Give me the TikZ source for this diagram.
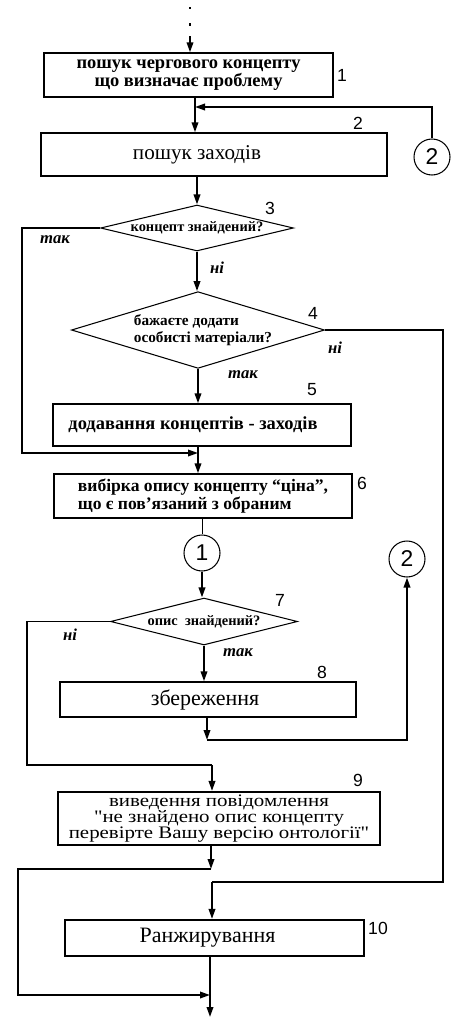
\documentclass[tikz,border=0pt]{standalone}
\usepackage{fontspec}
\setmainfont{Liberation Serif}
\newfontfamily\numfont{Liberation Sans}
\newfontfamily\widefont[FakeStretch=1.19]{Liberation Serif}
\usetikzlibrary{arrows.meta,shapes.geometric}

\begin{document}
\begin{tikzpicture}[
    x=0.02cm,y=-0.02cm,
    box/.style={rectangle,draw,line width=0.8pt,inner sep=0pt,align=center},
    decision/.style={diamond,draw,line width=0.6pt,inner sep=0pt,font=\bfseries\fontsize{8.2}{9}\selectfont},
    conn/.style={circle,draw,line width=0.6pt,minimum size=0.72cm,inner sep=0pt,font=\numfont\fontsize{13}{13}\selectfont},
    num/.style={font=\numfont\fontsize{10}{10}\selectfont,inner sep=0pt},
    ans/.style={font=\bfseries\itshape\fontsize{9.5}{10}\selectfont,inner sep=0pt},
    line/.style={line width=1.1pt},
    arrow/.style={line width=1.1pt,-{Triangle[length=2mm,width=1.3mm]}}
]
\useasboundingbox (0,0) rectangle (450,1018);

% blocks
\node[box,minimum width=5.78cm,minimum height=0.88cm,font=\bfseries\fontsize{10.5}{10.5}\selectfont] (b-search) at (188.5,75) {пошук чергового концепту\\що визначає проблему};
\node[box,minimum width=6.92cm,minimum height=0.86cm,font=\fontsize{12}{12}\selectfont] (b-measures) at (214,154.5) {пошук заходів\hspace*{0.68cm}};
\node[decision,minimum width=3.86cm,minimum height=0.92cm,shape aspect=4.2] (d-found) at (197,228) {концепт знайдений?};
\node[decision,minimum width=4.96cm,minimum height=1.52cm,shape aspect=3.3,align=left,font=\bfseries\fontsize{8.7}{10}\selectfont] (d-wish) at (198,330) {\hspace*{0.2cm}бажаєте додати\\\hspace*{0.2cm}особисті матеріали?};
\node[box,minimum width=5.96cm,minimum height=0.84cm,font=\bfseries\fontsize{10.5}{11}\selectfont] (b-add) at (202,425) {додавання концептів - заходів\hspace*{0.36cm}};
\node[box,minimum width=5.96cm,minimum height=0.88cm,align=left,font=\bfseries\fontsize{10}{10.5}\selectfont] (b-select) at (203,496) {вибірка опису концепту “ціна”,\\ що є пов’язаний з обраним};
\node[conn] (c-one) at (202,553) {1};
\node[conn] (c-two-a) at (432,157) {2};
\node[conn] (c-two-b) at (407,559) {2};
\node[decision,minimum width=3.74cm,minimum height=0.94cm,shape aspect=4] (d-descr) at (204,621.5) {опис\ \ знайдений?};
\node[box,minimum width=5.92cm,minimum height=0.70cm,font=\fontsize{12.5}{12}\selectfont] (b-save) at (208,699.5) {збереження\hspace*{0.12cm}};
\node[box,line width=1.2pt,minimum width=6.44cm,minimum height=1.06cm,font=\widefont\fontsize{10}{9}\selectfont] (b-msg) at (219,818.5) {виведення повідомлення\\"не знайдено опис концепту\\перевірте Вашу версію онтології"};
\node[box,line width=1.2pt,minimum width=5.98cm,minimum height=0.72cm,font=\fontsize{12.5}{12}\selectfont] (b-rank) at (214.5,938) {Ранжирування\hspace*{0.28cm}};

% numbers
\node[num] (n1) at (342,75) {1};
\node[num] (n2) at (358,123) {2};
\node[num] (n3) at (270,208) {3};
\node[num] (n4) at (313,313) {4};
\node[num] (n5) at (312,390) {5};
\node[num] (n6) at (362,483) {6};
\node[num] (n7) at (280,600) {7};
\node[num] (n8) at (322,672) {8};
\node[num] (n9) at (358,780) {9};
\node[num] (n10) at (378,928) {10};

% answers
\node[ans] (a-yes3) at (55,240) {так};
\node[ans] (a-no3) at (217,268) {ні};
\node[ans] (a-no4) at (335,348) {ні};
\node[ans] (a-yes4) at (243,375) {так};
\node[ans] (a-no7) at (70,635) {ні};
\node[ans] (a-yes7) at (238,653) {так};

% points on the lines
\coordinate (top) at (190,7);
\coordinate (top-end) at (190,36);
\coordinate (j1) at (195,107);
\coordinate (k1) at (22,453);
\coordinate (j2) at (198,453);
\coordinate (j4) at (207,740);
\coordinate (k3) at (27,765);
\coordinate (j5) at (212,765);
\coordinate (j7) at (211,869);
\coordinate (k2) at (443,882);
\coordinate (j6) at (212,882);
\coordinate (k4) at (18,995);
\coordinate (j8) at (210,995);
\coordinate (bottom) at (210,1017);

% main flow
\draw[line width=1.3pt,dash pattern=on 1.3pt off 8pt] (top) -- (top-end);
\draw[arrow] (top-end) -- (top-end |- b-search.north);
\draw[arrow] (j1 |- b-search.south) -- (j1 |- b-measures.north);
\draw[arrow] (c-two-a.north) |- (j1);
\draw[arrow] (d-found.north |- b-measures.south) -- (d-found.north);
\draw[arrow] (d-found.south) -- (d-found.south |- d-wish.north);
\draw[arrow] (d-wish.south) -- (d-wish.south |- b-add.north);
\draw[arrow] (d-found.west) -| (k1) -- (j2);
\draw[arrow] (j2 |- b-add.south) -- (j2 |- b-select.north);
\draw[line width=0.5pt] (c-one.north |- b-select.south) -- (c-one.north);
\draw[arrow] (c-one.south) -- (c-one.south |- d-descr.north);
\draw[arrow] (d-descr.south) -- (d-descr.south |- b-save.north);
\draw[arrow] (j4 |- b-save.south) -- (j4);
\draw[arrow] (j4) -| (c-two-b.south);
\draw[line] (d-descr.west) -| (k3) -- (j5);
\draw[arrow] (j5) -- (j5 |- b-msg.north);
\draw[arrow] (j7 |- b-msg.south) -- (j7);
\draw[arrow] (j7) -- (k4 |- j7) -- (k4) -- (j8);
\draw[line] (d-wish.east) -| (k2) -- (j6);
\draw[arrow] (j6) -- (j6 |- b-rank.north);
\draw[arrow] (bottom |- b-rank.south) -- (bottom);

\end{tikzpicture}
\end{document}
